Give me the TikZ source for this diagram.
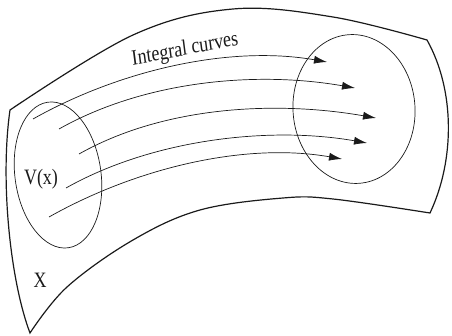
\documentclass[tikz,border=0pt]{standalone}
\usepackage{fontspec}
\setmainfont{Liberation Serif}
\usetikzlibrary{positioning,arrows.meta,shapes.geometric}
\definecolor{ink}{HTML}{1A1A1A}
\tikzset{
  sheet/.style={draw=ink, line width=1.2pt, line join=miter},
  nbhd/.style={draw=ink, line width=0.7pt, ellipse, inner sep=0pt},
  flow/.style={-{Latex[length=13pt, width=8pt]}, line width=0.7pt, color=ink},
  lbl/.style={font=\fontsize{18}{20}\selectfont, color=ink, inner sep=0pt, yscale=1.22},
}

\begin{document}
\begin{tikzpicture}[x=1pt, y=-1pt]
\useasboundingbox (0,0) rectangle (452,336);
% the manifold
\draw[sheet] plot[smooth, tension=0.6] coordinates {(10,110) (133,35) (233,9) (333,17) (427,40)}
  .. controls (455,90) and (455,160) .. (430,213)
  -- plot[smooth, tension=0.6] coordinates {(430,213) (333,199) (283,198) (200,210) (133,240) (67,287) (30,333)}
  .. controls (10,280) and (0,180) .. (10,110) -- cycle;
% neighbourhoods
\node[nbhd, minimum width=86pt, minimum height=147pt, rotate=8] (vx) at (58,175) {};
\node[nbhd, minimum width=122pt, minimum height=149pt, rotate=4] (fx) at (354,109) {};
% integral curves
\coordinate (s1) at (33,119);  \coordinate (e1) at (327,62);
\coordinate (s2) at (59,129);  \coordinate (e2) at (355,88);
\coordinate (s3) at (79,154);  \coordinate (e3) at (376,118);
\coordinate (s4) at (66,188);  \coordinate (e4) at (367,143);
\coordinate (s5) at (49,217);  \coordinate (e5) at (342,159);
\foreach \i in {1,...,5}
  \draw[flow] (s\i) .. controls +(87,-49) and +(-97,-17) .. (e\i);
% labels
\node[lbl, rotate=9] (ic) at (185,50) {Integral curves};
\node[lbl] (v) at (41,179) {V(x)};
\node[lbl] (x) at (40,280) {X};
\end{tikzpicture}
\end{document}
